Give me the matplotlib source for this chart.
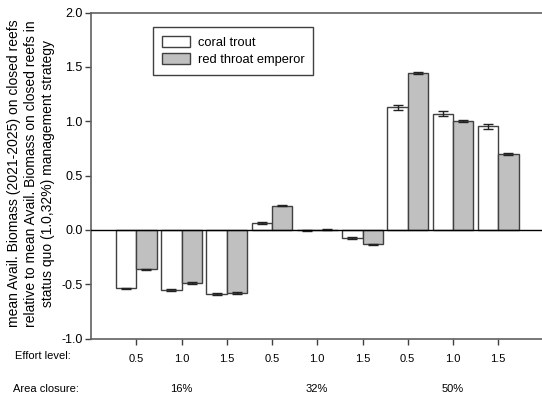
import matplotlib
matplotlib.use("Agg")
import matplotlib.pyplot as plt
import matplotlib.transforms as mtransforms
from matplotlib.patches import Patch
import numpy as np

plt.rcParams['font.family'] = ['Liberation Sans', 'DejaVu Sans']

# ---- data ----
effort_labels = ["0.5", "1.0", "1.5", "0.5", "1.0", "1.5", "0.5", "1.0", "1.5"]
area_labels = ["16%", "32%", "50%"]
series_names = ["coral trout", "red throat emperor"]
coral_trout = [-0.537, -0.557, -0.590, 0.062, -0.005, -0.077, 1.127, 1.070, 0.952]
coral_err = [0.005, 0.008, 0.006, 0.012, 0.008, 0.010, 0.022, 0.025, 0.025]
red_throat = [-0.363, -0.490, -0.580, 0.222, 0.002, -0.134, 1.443, 1.000, 0.698]
red_err = [0.005, 0.006, 0.006, 0.006, 0.005, 0.005, 0.012, 0.008, 0.008]
ylabel = ("mean Avail. Biomass (2021-2025) on closed reefs\n"
          "relative to mean Avail. Biomass on closed reefs in\n"
          "status quo (1.0,32%) management strategy")

W, H = 542, 399
fig = plt.figure(figsize=(W / 100, H / 100), dpi=100)
ax = fig.add_axes([91 / W, 1 - 338.5 / H, (543.5 - 91) / W, (338.5 - 12.5) / H])

x = np.arange(1, len(coral_trout) + 1)
bw = 0.453
edge = '#404040'
ax.bar(x - bw / 2, coral_trout, width=bw, color='white', edgecolor=edge, linewidth=1.0, zorder=2)
ax.bar(x + bw / 2, red_throat, width=bw, color='#c0c0c0', edgecolor=edge, linewidth=1.0, zorder=2)
ax.errorbar(x - bw / 2, coral_trout, yerr=coral_err, fmt='none', ecolor='#222222',
            elinewidth=1.0, capsize=3.5, capthick=1.0, zorder=3)
ax.errorbar(x + bw / 2, red_throat, yerr=red_err, fmt='none', ecolor='#222222',
            elinewidth=1.0, capsize=3.5, capthick=1.0, zorder=3)
ax.axhline(0, color='black', linewidth=1.0, zorder=4)

ax.set_xlim(0, 10)
ax.set_ylim(-1.0, 2.0)
ax.set_yticks(np.arange(-1.0, 2.01, 0.5))
ax.set_yticklabels([f"{v:.1f}" for v in np.arange(-1.0, 2.01, 0.5)], fontsize=9)
ax.set_xticks(x)
ax.set_xticklabels(effort_labels, fontsize=8)
ax.tick_params(axis='y', direction='out', length=4, width=1, color='#404040', pad=2)
ax.tick_params(axis='x', direction='out', length=4, width=1, color='#404040', pad=7)

for s in ['left', 'top', 'bottom']:
    ax.spines[s].set_color('#606060')
    ax.spines[s].set_linewidth(1.2)
ax.spines['right'].set_visible(False)

ax.set_ylabel(ylabel, fontsize=10, linespacing=1.3, ha='center', va='center')
ax.yaxis.set_label_coords((31 - 91) / 452.5, (338.5 - 173.5) / 326)

fig.text(15 / W, 1 - 356 / H, "Effort level:", fontsize=8, ha='left', va='center')
fig.text(13 / W, 1 - 389 / H, "Area closure:", fontsize=8, ha='left', va='center')
trans = mtransforms.blended_transform_factory(ax.transData, fig.transFigure)
for i, lab in enumerate(area_labels):
    ax.text(x[3 * i + 1], 1 - 389 / H, lab, fontsize=8, ha='center', va='center',
            transform=trans)

handles = [Patch(facecolor='white', edgecolor=edge, linewidth=1.0),
           Patch(facecolor='#c0c0c0', edgecolor=edge, linewidth=1.0)]
leg = ax.legend(handles, series_names, loc='upper left', bbox_to_anchor=(153 / W, 1 - 27 / H),
                bbox_transform=fig.transFigure, borderaxespad=0, fontsize=9.3,
                handlelength=2.2, handleheight=0.95, handletextpad=0.55,
                labelspacing=0.3, borderpad=0.7, fancybox=False, framealpha=1)
leg.get_frame().set_edgecolor('#404040')
leg.get_frame().set_linewidth(1.0)

fig.savefig("out.png", dpi=100)
